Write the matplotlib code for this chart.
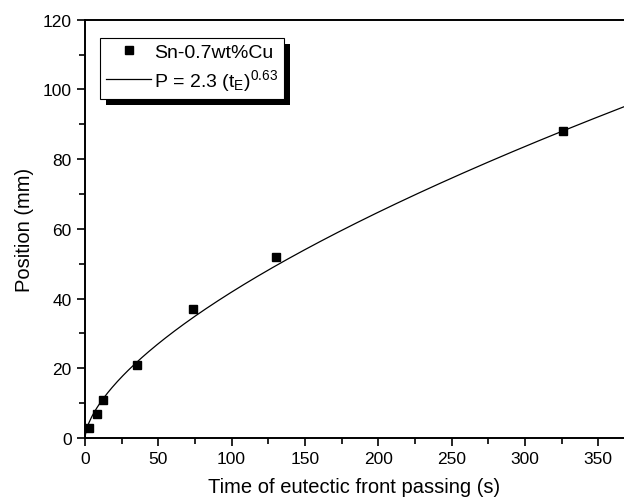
#!/usr/bin/env python3
"""Position of the eutectic front vs. time, with power-law fit."""
import matplotlib
matplotlib.use("Agg")
import matplotlib.pyplot as plt
import numpy as np
from matplotlib.patches import Rectangle
from matplotlib.ticker import MultipleLocator

plt.rcParams["font.family"] = ["Liberation Sans", "DejaVu Sans"]
plt.rcParams["mathtext.fontset"] = "custom"
plt.rcParams["mathtext.rm"] = "Liberation Sans"
plt.rcParams["mathtext.it"] = "Liberation Sans"

# measured points (Sn-0.7wt%Cu)
time_s = [3, 8.5, 12.5, 35.5, 74, 130.5, 326]
position_mm = [3, 7, 11, 21, 37, 52, 88]

# fit parameters, P = A * t^B
fit_a = 2.3
fit_b = 0.63

fig = plt.figure(figsize=(6.24, 5.02), dpi=100)
ax = fig.add_axes([0.136, 0.1255, 0.864, 0.8333])

t_fit = np.linspace(0, 370, 400)
ax.plot(t_fit, fit_a * t_fit ** fit_b, color="black", lw=0.9,
        label=r"P = 2.3 (t$_\mathregular{E}$)$^\mathregular{0.63}$")
ax.plot(time_s, position_mm, "s", color="black", ms=6.2, label="Sn-0.7wt%Cu",
        clip_on=False, zorder=3)

ax.set_xlim(0, 367.5)
ax.set_ylim(0, 120)
ax.xaxis.set_major_locator(MultipleLocator(50))
ax.xaxis.set_minor_locator(MultipleLocator(25))
ax.yaxis.set_major_locator(MultipleLocator(20))
ax.yaxis.set_minor_locator(MultipleLocator(10))
ax.tick_params(which="both", direction="out", width=1.2, labelsize=12.5)
ax.tick_params(which="major", length=6)
ax.tick_params(which="minor", length=4)
ax.spines["right"].set_visible(False)
for s in ("left", "bottom", "top"):
    ax.spines[s].set_linewidth(1.4)

ax.set_xlabel("Time of eutectic front passing (s)", fontsize=14.5, labelpad=8)
ax.set_ylabel("Position (mm)", fontsize=14.5, labelpad=6)

h, l = ax.get_legend_handles_labels()
leg = ax.legend(h[::-1], l[::-1], loc="upper left", bbox_to_anchor=(0.029, 0.957),
                fontsize=14, frameon=True, fancybox=False, edgecolor="black",
                facecolor="white", framealpha=1,
                handlelength=2.3, borderaxespad=0, borderpad=0.3,
                labelspacing=0.3, handletextpad=0.15)
leg.get_frame().set_linewidth(0.8)

# offset black shadow behind the legend box
fig.canvas.draw()
bb = leg.get_window_extent().transformed(ax.transAxes.inverted())
dx = 6 / (ax.bbox.width)
dy = 6 / (ax.bbox.height)
ax.add_patch(Rectangle((bb.x0 + dx, bb.y0 - dy), bb.width, bb.height,
                       transform=ax.transAxes, facecolor="black",
                       edgecolor="none", zorder=4.9, clip_on=False))

fig.savefig("out.png", dpi=100)
